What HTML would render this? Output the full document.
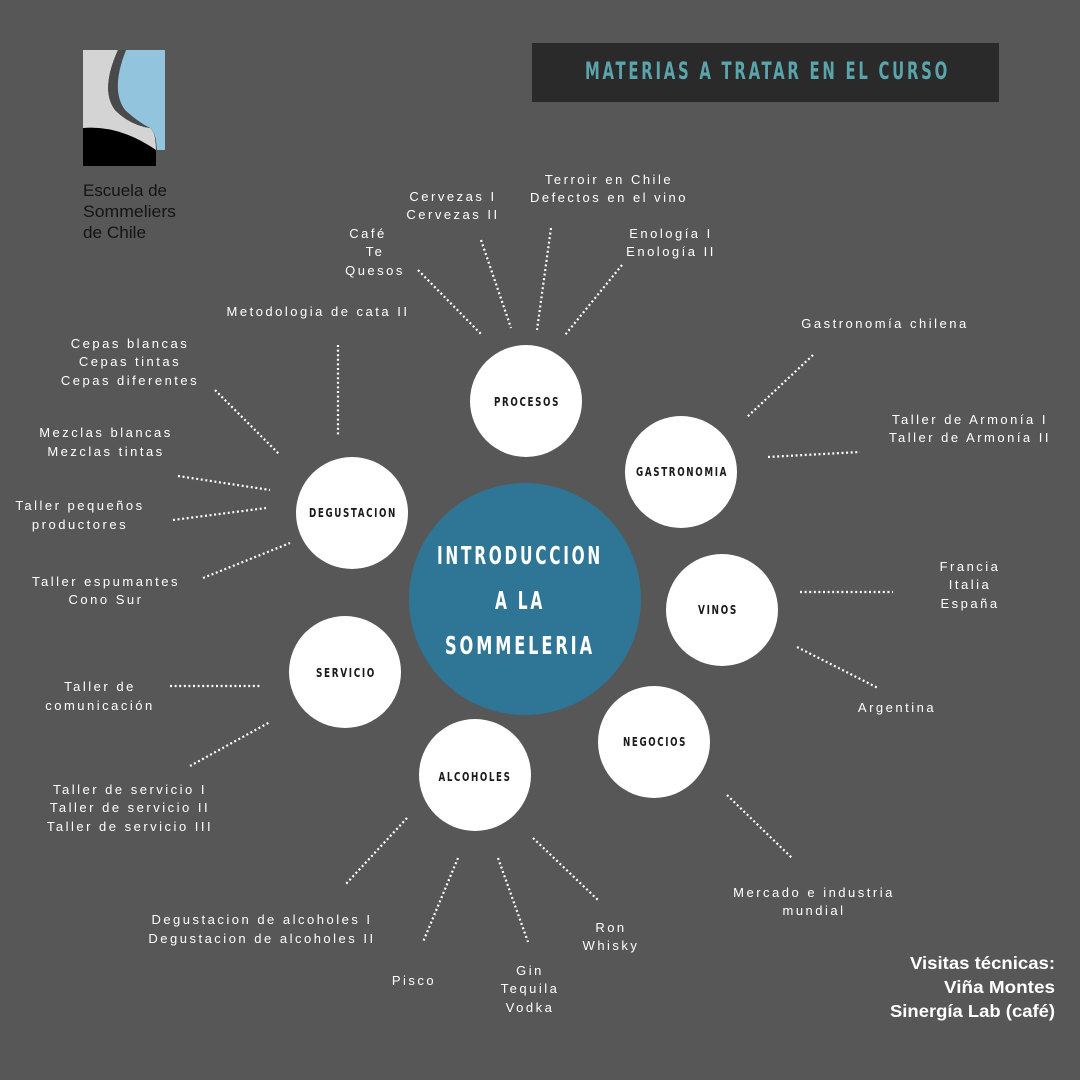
<!DOCTYPE html>
<html><head><meta charset="utf-8"><style>
html,body{margin:0;padding:0;background:#575757;}
svg{display:block}
.t{font-family:"Liberation Sans",sans-serif;font-size:13px;fill:#fff;letter-spacing:2.5px;text-anchor:middle}
.c{font-family:"DejaVu Sans Condensed","Liberation Sans",sans-serif;font-weight:bold;font-size:12px;fill:#1a1a1a;letter-spacing:2px;text-anchor:middle}
.d{stroke:#fff;stroke-width:2.2;stroke-dasharray:2 2.6;fill:none}
.b{font-family:"Liberation Sans",sans-serif;font-weight:bold;font-size:17.5px;fill:#fff;text-anchor:end}
</style></head><body>
<svg width="1080" height="1080" viewBox="0 0 1080 1080" xmlns="http://www.w3.org/2000/svg">
<rect width="1080" height="1080" fill="#575757"/>
<!-- logo -->
<rect x="83" y="50" width="73" height="116" fill="#000"/>
<path d="M83 50 H118 Q100 90 115 110 Q130 125 150 128 Q156 132 156 150 Q120 125 83 128 Z" fill="#d4d4d4"/>
<path d="M118 50 H126 Q110 90 125 110 Q138 122 150 128 Q130 125 115 110 Q100 90 118 50Z" fill="#4a4a4a"/>
<path d="M126 50 H165 V150 H157 Q156 132 150 128 Q138 122 125 110 Q110 90 126 50Z" fill="#93c4de"/>
<g font-family="Liberation Sans,sans-serif" font-size="16.5" fill="#141414">
<text x="83" y="196" textLength="84" lengthAdjust="spacingAndGlyphs">Escuela de</text>
<text x="83" y="217" textLength="93" lengthAdjust="spacingAndGlyphs">Sommeliers</text>
<text x="83" y="238" textLength="63" lengthAdjust="spacingAndGlyphs">de Chile</text>
</g>
<!-- title -->
<rect x="532" y="43" width="467" height="59" fill="#2a2a2a"/>
<text x="585" y="79" textLength="365" lengthAdjust="spacingAndGlyphs" font-family="DejaVu Sans Condensed,Liberation Sans,sans-serif" font-weight="bold" font-size="24" letter-spacing="4" fill="#5aa5ab">MATERIAS A TRATAR EN EL CURSO</text>
<!-- dotted lines -->
<g class="d">
<line x1="418" y1="270" x2="482" y2="335"/><line x1="481" y1="240" x2="511" y2="328"/>
<line x1="551" y1="228" x2="537" y2="330"/><line x1="622" y1="265" x2="565" y2="335"/>
<line x1="338" y1="345" x2="338" y2="435"/><line x1="215" y1="390" x2="280" y2="455"/>
<line x1="178" y1="476" x2="270" y2="490"/><line x1="173" y1="520" x2="266" y2="508"/>
<line x1="203" y1="578" x2="290" y2="543"/>
<line x1="813" y1="355" x2="746" y2="418"/><line x1="768" y1="457" x2="860" y2="452"/>
<line x1="800" y1="592" x2="893" y2="592"/><line x1="797" y1="647" x2="878" y2="688"/>
<line x1="727" y1="795" x2="792" y2="858"/>
<line x1="170" y1="686" x2="262" y2="686"/><line x1="190" y1="766" x2="270" y2="722"/>
<line x1="407" y1="818" x2="345" y2="885"/><line x1="458" y1="858" x2="423" y2="942"/>
<line x1="498" y1="858" x2="528" y2="942"/><line x1="533" y1="838" x2="598" y2="900"/>
</g>
<!-- circles -->
<circle cx="525" cy="599" r="116" fill="#2f7596"/>
<g fill="#fff">
<circle cx="526" cy="401" r="56"/><circle cx="681" cy="472" r="56"/>
<circle cx="722" cy="610" r="56"/><circle cx="654" cy="742" r="56"/>
<circle cx="475" cy="775" r="56"/><circle cx="345" cy="672" r="56"/>
<circle cx="352" cy="513" r="56"/>
</g>
<g font-family="DejaVu Sans Condensed,Liberation Sans,sans-serif" font-weight="bold" font-size="25" fill="#fff" text-anchor="middle" letter-spacing="4">
<text x="520" y="564" textLength="166" lengthAdjust="spacingAndGlyphs">INTRODUCCION</text>
<text x="520" y="609" textLength="50" lengthAdjust="spacingAndGlyphs">A LA</text>
<text x="520" y="654" textLength="150" lengthAdjust="spacingAndGlyphs">SOMMELERIA</text>
</g>
<g class="c">
<text x="527" y="406" textLength="66" lengthAdjust="spacingAndGlyphs">PROCESOS</text>
<text x="682" y="476" textLength="92" lengthAdjust="spacingAndGlyphs">GASTRONOMIA</text>
<text x="718" y="614" textLength="40" lengthAdjust="spacingAndGlyphs">VINOS</text>
<text x="655" y="746" textLength="64" lengthAdjust="spacingAndGlyphs">NEGOCIOS</text>
<text x="475" y="781" textLength="73" lengthAdjust="spacingAndGlyphs">ALCOHOLES</text>
<text x="346" y="677" textLength="60" lengthAdjust="spacingAndGlyphs">SERVICIO</text>
<text x="353" y="517" textLength="88" lengthAdjust="spacingAndGlyphs">DEGUSTACION</text>
</g>
<!-- labels -->
<text class="t" x="609" y="184">Terroir en Chile</text>
<text class="t" x="609" y="202">Defectos en el vino</text>
<text class="t" x="453" y="201">Cervezas I</text>
<text class="t" x="453" y="219">Cervezas II</text>
<text class="t" x="671" y="238">Enología I</text>
<text class="t" x="671" y="256">Enología II</text>
<text class="t" x="368" y="238">Café</text>
<text class="t" x="375" y="256">Te</text>
<text class="t" x="375" y="275">Quesos</text>
<text class="t" x="318" y="316">Metodologia de cata II</text>
<text class="t" x="130" y="348">Cepas blancas</text>
<text class="t" x="130" y="366">Cepas tintas</text>
<text class="t" x="130" y="385">Cepas diferentes</text>
<text class="t" x="106" y="437">Mezclas blancas</text>
<text class="t" x="106" y="456">Mezclas tintas</text>
<text class="t" x="80" y="510">Taller pequeños</text>
<text class="t" x="80" y="529">productores</text>
<text class="t" x="106" y="586">Taller espumantes</text>
<text class="t" x="106" y="604">Cono Sur</text>
<text class="t" x="100" y="691">Taller de</text>
<text class="t" x="100" y="710">comunicación</text>
<text class="t" x="130" y="794">Taller de servicio I</text>
<text class="t" x="130" y="812">Taller de servicio II</text>
<text class="t" x="130" y="831">Taller de servicio III</text>
<text class="t" x="262" y="924">Degustacion de alcoholes I</text>
<text class="t" x="262" y="943">Degustacion de alcoholes II</text>
<text class="t" x="414" y="985">Pisco</text>
<text class="t" x="530" y="975">Gin</text>
<text class="t" x="530" y="993">Tequila</text>
<text class="t" x="530" y="1012">Vodka</text>
<text class="t" x="611" y="932">Ron</text>
<text class="t" x="611" y="950">Whisky</text>
<text class="t" x="814" y="897">Mercado e industria</text>
<text class="t" x="814" y="915">mundial</text>
<text class="t" x="897" y="712">Argentina</text>
<text class="t" x="970" y="571">Francia</text>
<text class="t" x="970" y="589">Italia</text>
<text class="t" x="970" y="608">España</text>
<text class="t" x="970" y="424">Taller de Armonía I</text>
<text class="t" x="970" y="442">Taller de Armonía II</text>
<text class="t" x="885" y="328">Gastronomía chilena</text>
<text class="b" x="1055" y="969" textLength="145" lengthAdjust="spacingAndGlyphs">Visitas técnicas:</text>
<text class="b" x="1055" y="993" textLength="111" lengthAdjust="spacingAndGlyphs">Viña Montes</text>
<text class="b" x="1055" y="1017" textLength="165" lengthAdjust="spacingAndGlyphs">Sinergía Lab (café)</text>
</svg>
</body></html>
